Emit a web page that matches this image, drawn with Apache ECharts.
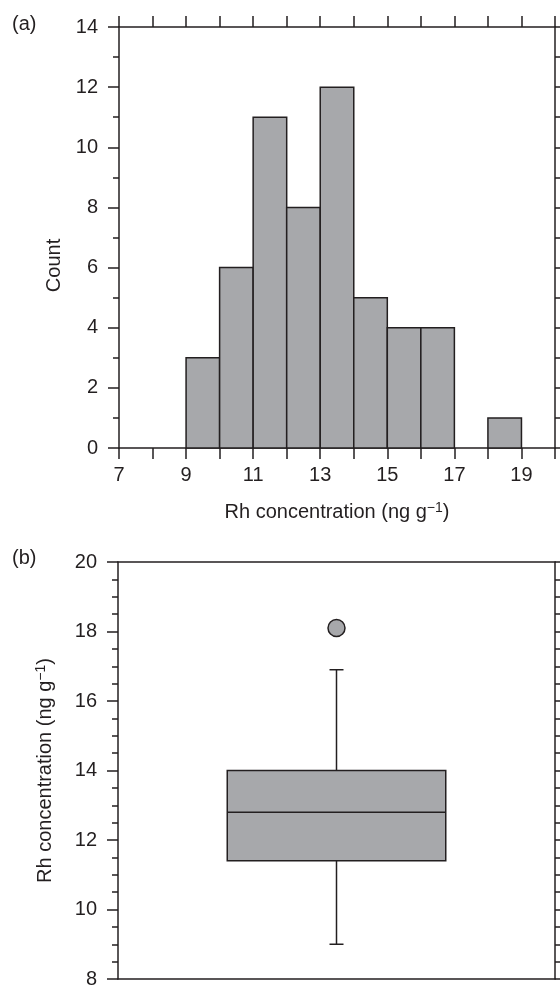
<!DOCTYPE html>
<html>
<head>
<meta charset="utf-8">
<script src="https://cdn.jsdelivr.net/npm/echarts@6/dist/echarts.min.js"></script>
<style>
html, body { margin: 0; padding: 0; background: #fff; }
#chart { width: 560px; height: 989px; }
</style>
</head>
<body>
<div id="chart"></div>
<script>
// (a) histogram: bins of width 1
const binStarts = [9, 10, 11, 12, 13, 14, 15, 16, 17, 18];
const binWidth = 1;
const counts = [3, 6, 11, 8, 12, 5, 4, 4, 0, 1];
const concLabels = [7, 9, 11, 13, 15, 17, 19];

// (b) box plot: [min, Q1, median, Q3, max]
const boxCategories = ['Rh'];
const boxStats = [[9.0, 11.4, 12.8, 14.0, 16.9]];
const outliers = [[0, 18.1]];

const ink = '#231f20';
const fill = '#a7a8ab';
const font = 'Liberation Sans, Arial, Helvetica, sans-serif';
const concName = 'Rh concentration (ng g{s|\u22121})';

const chart = echarts.init(document.getElementById('chart'));

const lineStyle = { color: ink, width: 1.5 };
const axisLine = { show: true, onZero: false, lineStyle: lineStyle };
const labelStyle = { color: ink, fontSize: 20, fontFamily: font };
const nameStyle = {
  color: ink, fontSize: 20, fontFamily: font,
  rich: { s: { color: ink, fontSize: 14, fontFamily: font, verticalAlign: 'top', padding: [0, 0, 8, 0] } }
};

function histItem(params, api) {
  const c = api.value(2);
  if (!c) return { type: 'group', children: [] };
  const p0 = api.coord([api.value(0), c]);
  const p1 = api.coord([api.value(1), 0]);
  return {
    type: 'rect',
    shape: { x: p0[0], y: p0[1], width: p1[0] - p0[0], height: p1[1] - p0[1] },
    style: { fill: fill, stroke: ink, lineWidth: 1.5 }
  };
}

function boxItem(params, api) {
  const cat = api.value(0);
  const lo = api.coord([cat, api.value(1)]);
  const q1 = api.coord([cat, api.value(2)]);
  const med = api.coord([cat, api.value(3)]);
  const q3 = api.coord([cat, api.value(4)]);
  const hi = api.coord([cat, api.value(5)]);
  const half = api.size([1, 0])[0] * 0.25;
  const cap = 7;
  const cx = lo[0];
  const st = { stroke: ink, lineWidth: 1.5, fill: null };
  return {
    type: 'group',
    children: [
      { type: 'line', shape: { x1: cx, y1: lo[1], x2: cx, y2: q1[1] }, style: st },
      { type: 'line', shape: { x1: cx, y1: q3[1], x2: cx, y2: hi[1] }, style: st },
      { type: 'line', shape: { x1: cx - cap, y1: lo[1], x2: cx + cap, y2: lo[1] }, style: st },
      { type: 'line', shape: { x1: cx - cap, y1: hi[1], x2: cx + cap, y2: hi[1] }, style: st },
      { type: 'rect', shape: { x: cx - half, y: q3[1], width: half * 2, height: q1[1] - q3[1] },
        style: { fill: fill, stroke: ink, lineWidth: 1.5 } },
      { type: 'line', shape: { x1: cx - half, y1: med[1], x2: cx + half, y2: med[1] }, style: st }
    ]
  };
}

const option = {
  animation: false,
  backgroundColor: '#fff',
  textStyle: { fontFamily: font },
  graphic: [
    { type: 'text', left: 12, top: 14, style: { text: '(a)', fill: ink, font: '20px ' + font } },
    { type: 'text', left: 12, top: 548, style: { text: '(b)', fill: ink, font: '20px ' + font } }
  ],
  grid: [
    { left: 119, top: 27, width: 436, height: 421 },
    { left: 118, top: 562, width: 437, height: 420 }
  ],
  xAxis: [
    {
      gridIndex: 0, type: 'value', position: 'bottom', min: 7, max: 20, interval: 1,
      axisLine: axisLine,
      axisTick: { show: true, length: 11, lineStyle: lineStyle },
      axisLabel: { margin: 17, ...labelStyle,
        formatter: v => concLabels.includes(v) ? String(v) : '' },
      splitLine: { show: false },
      name: concName, nameLocation: 'middle', nameGap: 53, nameTextStyle: nameStyle
    },
    {
      gridIndex: 0, type: 'value', position: 'top', min: 7, max: 20, interval: 1,
      axisLine: axisLine,
      axisTick: { show: true, length: 11, lineStyle: lineStyle },
      axisLabel: { show: false },
      splitLine: { show: false }
    },
    {
      gridIndex: 1, type: 'category', position: 'bottom', data: boxCategories,
      axisLine: axisLine,
      axisTick: { show: false },
      axisLabel: { show: false },
      splitLine: { show: false }
    },
    {
      gridIndex: 1, type: 'category', position: 'top', data: boxCategories,
      axisLine: axisLine,
      axisTick: { show: false },
      axisLabel: { show: false },
      splitLine: { show: false }
    }
  ],
  yAxis: [
    {
      gridIndex: 0, type: 'value', position: 'left', min: 0, max: 14, interval: 2,
      axisLine: axisLine,
      axisTick: { show: true, length: 11, lineStyle: lineStyle },
      minorTick: { show: true, splitNumber: 2, length: 6, lineStyle: lineStyle },
      axisLabel: { margin: 21, ...labelStyle },
      splitLine: { show: false },
      minorSplitLine: { show: false },
      name: 'Count', nameLocation: 'middle', nameGap: 51,
      nameTextStyle: { ...nameStyle, padding: [0, 56, 0, 0] }
    },
    {
      gridIndex: 0, type: 'value', position: 'right', min: 0, max: 14, interval: 1,
      axisLine: axisLine,
      axisTick: { show: true, length: 6, lineStyle: lineStyle },
      axisLabel: { show: false },
      splitLine: { show: false }
    },
    {
      gridIndex: 1, type: 'value', position: 'left', min: 8, max: 20, interval: 2,
      axisLine: axisLine,
      axisTick: { show: true, length: 11, lineStyle: lineStyle },
      minorTick: { show: true, splitNumber: 4, length: 6, lineStyle: lineStyle },
      axisLabel: { margin: 21, ...labelStyle },
      splitLine: { show: false },
      minorSplitLine: { show: false },
      name: concName, nameLocation: 'middle', nameGap: 62, nameTextStyle: nameStyle
    },
    {
      gridIndex: 1, type: 'value', position: 'right', min: 8, max: 20, interval: 0.5,
      axisLine: axisLine,
      axisTick: { show: true, length: 6, lineStyle: lineStyle },
      axisLabel: { show: false },
      splitLine: { show: false }
    }
  ],
  series: [
    {
      type: 'custom', xAxisIndex: 0, yAxisIndex: 0,
      renderItem: histItem,
      encode: { x: [0, 1], y: 2 },
      data: binStarts.map((s, i) => [s, s + binWidth, counts[i]])
    },
    {
      type: 'custom', xAxisIndex: 2, yAxisIndex: 2,
      renderItem: boxItem,
      encode: { x: 0, y: [1, 2, 3, 4, 5] },
      data: boxStats.map((s, i) => [i].concat(s))
    },
    {
      type: 'scatter', xAxisIndex: 2, yAxisIndex: 2,
      symbol: 'circle', symbolSize: 17,
      itemStyle: { color: fill, borderColor: ink, borderWidth: 1.5, opacity: 1 },
      data: outliers
    }
  ]
};

chart.setOption(option);
</script>
</body>
</html>
